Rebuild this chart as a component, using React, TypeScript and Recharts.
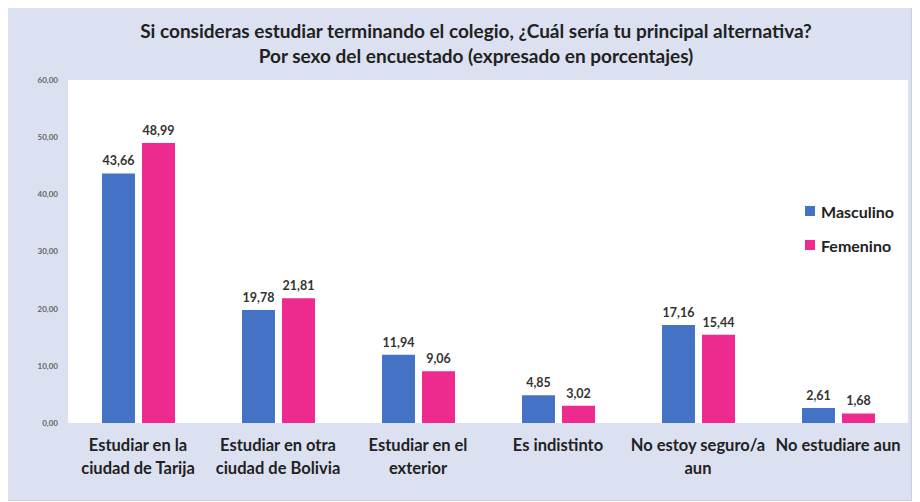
import React from "react";
import { BarChart, Bar, XAxis, YAxis, CartesianGrid, LabelList } from "recharts";

const categories = [
  "Estudiar en la|ciudad de Tarija",
  "Estudiar en otra|ciudad de Bolivia",
  "Estudiar en el|exterior",
  "Es indistinto",
  "No estoy seguro/a|aun",
  "No estudiare aun",
];
const masculino = [43.66, 19.78, 11.94, 4.85, 17.16, 2.61];
const femenino = [48.99, 21.81, 9.06, 3.02, 15.44, 1.68];
const yTicks = [0, 10, 20, 30, 40, 50, 60];

const BLUE = "#4472C4";
const PINK = "#EE2A8E";
const BG = "#DCE1F1";
const FONT = "Lato, 'Open Sans', sans-serif";

const data = categories.map((c, i) => ({ cat: c, Masculino: masculino[i], Femenino: femenino[i] }));

const fmt = (v: any) => Number(v).toFixed(2).replace(".", ",");

const XTick = (props: any) => {
  const { x, y, payload } = props;
  const lines = String(payload.value).split("|");
  return (
    <g>
      {lines.map((l: string, i: number) => (
        <text key={i} x={x} y={y + 20 + i * 23} textAnchor="middle" fontSize={16.5} fontWeight={700} fill="#222" fontFamily={FONT}>
          {l}
        </text>
      ))}
    </g>
  );
};

export default function App() {
  return (
    <div style={{ width: 905, height: 494, background: BG, border: "1px solid #c8cedf", boxSizing: "border-box", position: "relative", marginLeft: -1, marginTop: -1 }}>
      <div style={{ position: "absolute", left: 0, width: 936, top: 10, textAlign: "center", fontFamily: FONT, fontWeight: 700, fontSize: 19, color: "#222", lineHeight: "25px" }}>
        Si consideras estudiar terminando el colegio, ¿Cuál sería tu principal alternativa?
        <br />
        Por sexo del encuestado (expresado en porcentajes)
      </div>
      <BarChart
        width={903}
        height={492}
        data={data}
        margin={{ top: 72, right: 3, left: 0, bottom: 0 }}
        barSize={33}
        barGap={7}
      >
        <CartesianGrid horizontal={false} vertical={false} fill="#ffffff" />
        <XAxis dataKey="cat" tick={<XTick />} tickLine={false} axisLine={false} height={77} interval={0} />
        <YAxis
          domain={[0, 60]}
          ticks={yTicks}
          width={60}
          tickLine={false}
          axisLine={false}
          tickSize={0}
          tickMargin={10}
          tickFormatter={fmt}
          tick={{ fontSize: 8, fontWeight: 700, fill: "#666", fontFamily: FONT }}
        />
        <Bar dataKey="Masculino" fill={BLUE} isAnimationActive={false}>
          <LabelList dataKey="Masculino" position="top" offset={8} formatter={fmt} style={{ fontSize: 12.5, fontWeight: 700, fill: "#333", fontFamily: FONT }} />
        </Bar>
        <Bar dataKey="Femenino" fill={PINK} isAnimationActive={false}>
          <LabelList dataKey="Femenino" position="top" offset={8} formatter={fmt} style={{ fontSize: 12.5, fontWeight: 700, fill: "#333", fontFamily: FONT }} />
        </Bar>
      </BarChart>
      <div style={{ position: "absolute", left: 797, top: 186, fontFamily: FONT, fontWeight: 700, fontSize: 16, color: "#222" }}>
        {[["Masculino", BLUE], ["Femenino", PINK]].map(([n, c]) => (
          <div key={n} style={{ display: "flex", alignItems: "center", height: 34 }}>
            <span style={{ display: "inline-block", width: 10, height: 10, background: c, marginRight: 6 }} />
            {n}
          </div>
        ))}
      </div>
    </div>
  );
}
